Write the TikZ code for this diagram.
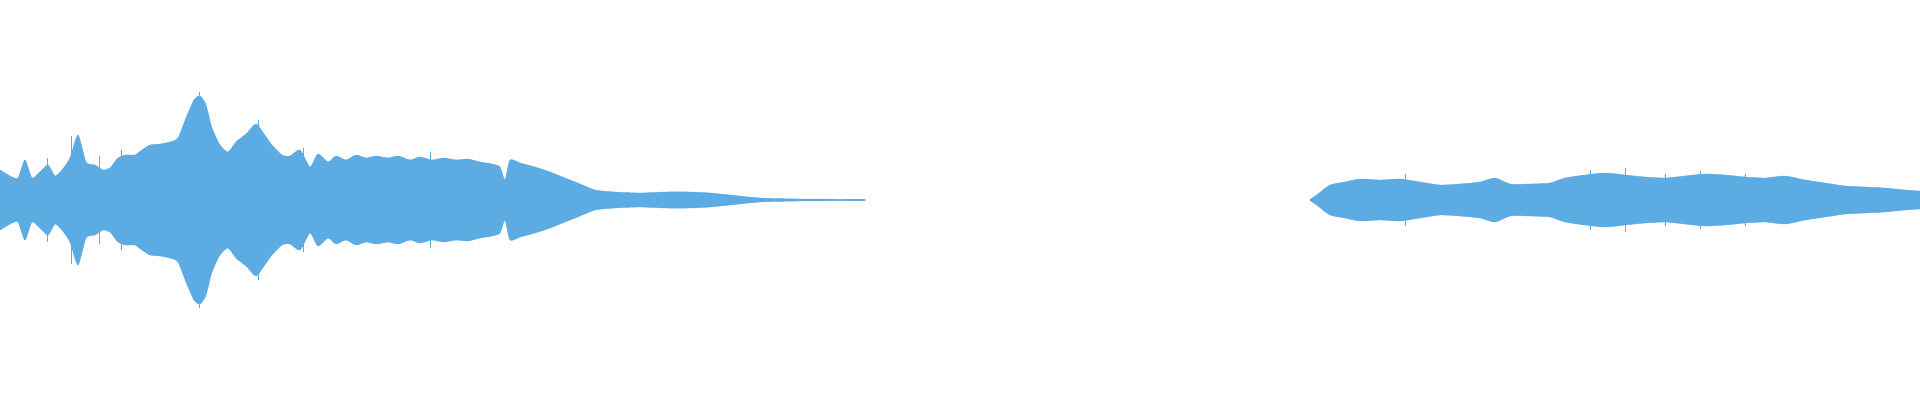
\documentclass[tikz,border=0pt]{standalone}
\definecolor{wave}{HTML}{5DABE3}
\begin{document}
\begin{tikzpicture}[x=1pt,y=1pt,env/.style={fill=wave,draw=wave,line width=0.4pt}]
\useasboundingbox (0,0) rectangle (1920,400);
\def\left{(0,30) (10,24) (18,22) (25,40) (32,22) (40,28) (48,35) (55,24) (62,30) (70,42) (78,65) (86,38) (95,35) (103,30) (110,32) (118,42) (126,45) (135,45) (142,50) (150,55) (160,56) (170,58) (178,62) (186,82) (194,100) (200,104) (206,95) (212,72) (220,55) (228,48) (236,58) (246,66) (256,76) (264,66) (272,55) (282,45) (290,44) (300,50) (310,33) (318,46) (328,38) (336,44) (346,40) (356,45) (366,42) (376,44) (388,42) (398,44) (410,40) (420,43) (432,40) (444,42) (456,40) (468,41) (480,38) (492,36) (500,33) (505,20) (510,40) (520,37) (535,33) (550,28) (565,22) (580,16) (595,10) (615,8) (640,7) (665,8) (690,8) (710,7) (730,5) (760,2) (800,1) (865,0.6)}
\def\right{(1310,0.5) (1318,6) (1330,15) (1345,18) (1360,21) (1380,20) (1400,21) (1420,18) (1440,15) (1460,16) (1480,18) (1495,22) (1510,16) (1530,16) (1550,17) (1565,22) (1585,25) (1605,27) (1625,25) (1645,23) (1665,22) (1685,24) (1705,26) (1725,25) (1745,23) (1765,22) (1785,24) (1805,20) (1825,17) (1845,14) (1865,13) (1885,12) (1905,10) (1920,9)}
\foreach \s in {1,-1}{
\begin{scope}[shift={(0,200)},yscale=\s]
\fill[env] (0,0) -- plot[smooth,tension=0.4] coordinates {\left} -- (865,0) -- cycle;
\fill[env] (1310,0) -- plot[smooth,tension=0.4] coordinates {\right} -- (1920,0) -- cycle;
\end{scope}}
\foreach \x/\a in {24/38,47/42,71/64,99/44,121/50,199/108,258/80,303/52,430/48,1405/26,1590/30,1625/32,1665/26,1700/29,1745/26}{
\draw[wave,line width=0.6pt] (\x,200-\a) -- (\x,200+\a);}
\end{tikzpicture}
\end{document}
